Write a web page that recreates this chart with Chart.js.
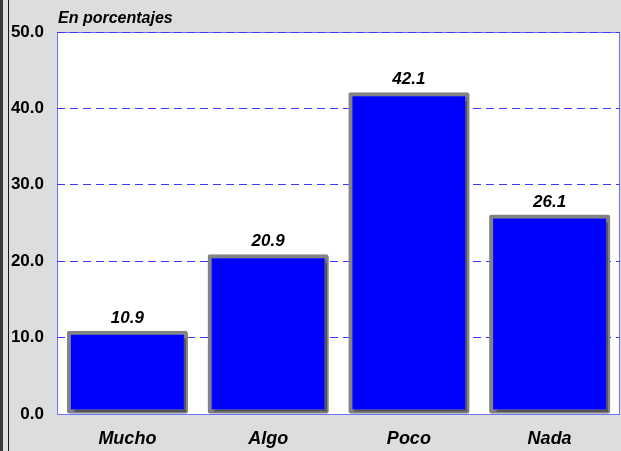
<!DOCTYPE html>
<html>
<head>
<meta charset="utf-8">
<script src="https://cdn.jsdelivr.net/npm/chart.js@4/dist/chart.umd.min.js"></script>
<style>
  html, body { margin: 0; padding: 0; background: #dcdddf; }
  #wrap { width: 621px; height: 451px; }
</style>
</head>
<body>
<div id="wrap"><canvas id="chart" width="621" height="451"></canvas></div>
<script>
const categories = ['Mucho', 'Algo', 'Poco', 'Nada'];
const values = [10.9, 20.9, 42.1, 26.1];
const yMin = 0;
const yMax = 50;
const yStep = 10;
const subtitle = 'En porcentajes';

const FONT = '"Liberation Sans", Arial, sans-serif';

// background, left rule lines, plot frame, subtitle, value labels
const decor = {
  id: 'decor',
  beforeDraw(chart) {
    const ctx = chart.ctx;
    const a = chart.chartArea;
    ctx.save();
    ctx.fillStyle = '#dcdddf';
    ctx.fillRect(0, 0, chart.width, chart.height);
    ctx.fillStyle = '#3a3a3a';
    ctx.fillRect(0, 0, 3, chart.height);
    ctx.fillStyle = '#1a1a1a';
    ctx.fillRect(8, 0, 1, chart.height);
    ctx.fillStyle = '#ffffff';
    ctx.fillRect(a.left, a.top, a.right - a.left, a.bottom - a.top);
    ctx.strokeStyle = '#7070ff';
    ctx.lineWidth = 1;
    ctx.strokeRect(a.left + 0.5, a.top + 0.5, a.right - a.left - 1, a.bottom - a.top);
    ctx.font = 'italic bold 16px ' + FONT;
    ctx.fillStyle = '#000';
    ctx.textAlign = 'left';
    ctx.textBaseline = 'alphabetic';
    ctx.fillText(subtitle, 58, 23);
    ctx.restore();
  },
  beforeDatasetsDraw(chart) {
    const ctx = chart.ctx;
    ctx.save();
    ctx.shadowColor = 'rgba(0,0,0,0.35)';
    ctx.shadowOffsetX = 2;
    ctx.shadowOffsetY = 2;
    ctx.shadowBlur = 1;
  },
  afterDatasetsDraw(chart) {
    const ctx = chart.ctx;
    ctx.restore();
    const meta = chart.getDatasetMeta(0);
    ctx.save();
    ctx.font = 'italic bold 17px ' + FONT;
    ctx.fillStyle = '#000';
    ctx.textAlign = 'center';
    ctx.textBaseline = 'alphabetic';
    meta.data.forEach((bar, i) => {
      ctx.fillText(values[i].toFixed(1), bar.x, bar.y - 8);
    });
    ctx.restore();
  }
};

new Chart(document.getElementById('chart'), {
  type: 'bar',
  data: {
    labels: categories,
    datasets: [{
      data: values,
      backgroundColor: '#0000ff',
      borderColor: '#838383',
      borderWidth: 4,
      borderRadius: 2,
      borderSkipped: false,
      barPercentage: 0.86,
      categoryPercentage: 1.0
    }]
  },
  options: {
    responsive: false,
    animation: false,
    layout: { padding: { top: 32, right: 1, left: 0, bottom: 0 } },
    plugins: {
      legend: { display: false },
      tooltip: { enabled: false }
    },
    scales: {
      x: {
        grid: { display: false, drawTicks: false },
        border: { display: false },
        ticks: {
          color: '#000',
          padding: 14,
          font: { family: FONT, size: 18, weight: 'bold', style: 'italic' }
        },
        afterFit(scale) { scale.height = 37; }
      },
      y: {
        min: yMin,
        max: yMax,
        grid: {
          color: ctx => ctx.tick.value === yMin ? 'rgba(0,0,0,0)' : '#3a3aff',
          drawTicks: false,
          lineWidth: 1
        },
        border: { display: false, dash: [8, 5] },
        ticks: {
          stepSize: yStep,
          color: '#000',
          padding: 13,
          font: { family: FONT, size: 17, weight: 'bold' },
          callback: v => Number(v).toFixed(1)
        },
        afterFit(scale) { scale.width = 57; }
      }
    }
  },
  plugins: [decor]
});
</script>
</body>
</html>
